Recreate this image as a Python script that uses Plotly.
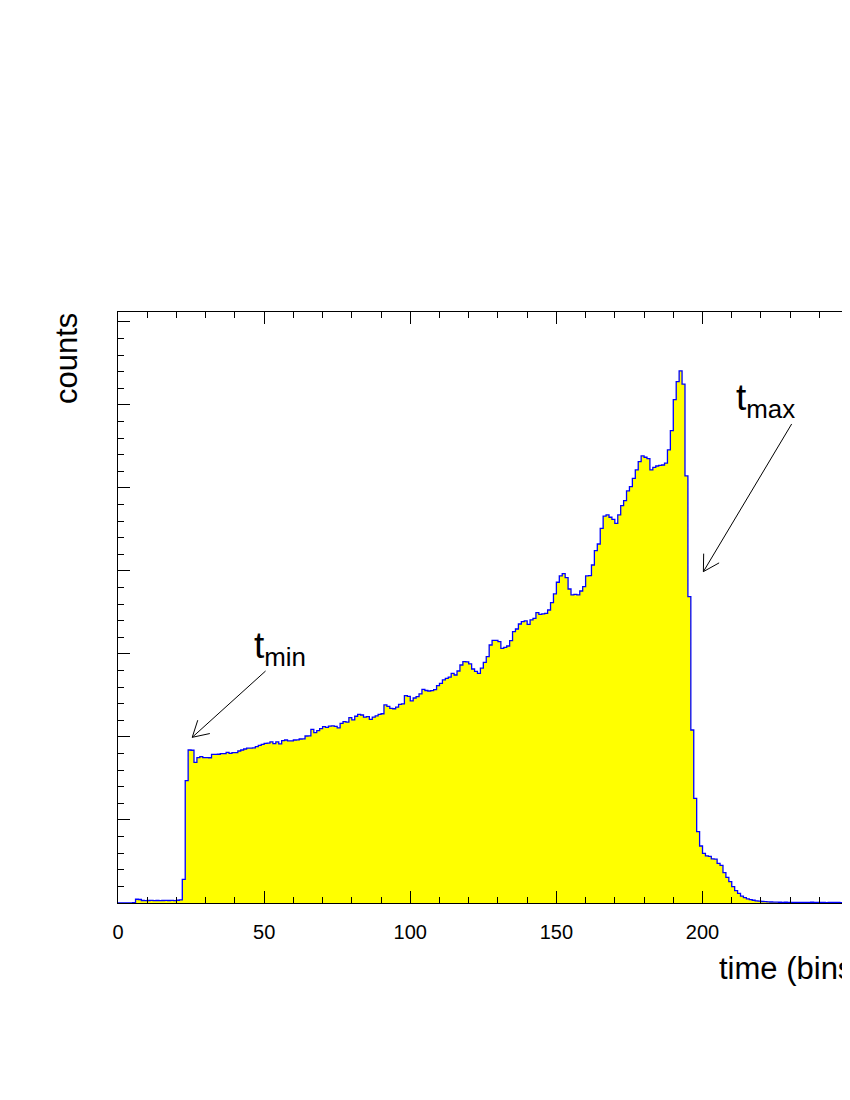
import math
import plotly.graph_objects as go

# Datos del histograma: cuentas por bin (bin de anchura 1, empezando en 0)
cuentas = [
    0, 0, 0, 0, 0, 5, 45, 42, 30, 28,
    30, 31, 29, 30, 28, 30, 32, 30, 31, 29,
    33, 38, 285, 1475, 1843, 1840, 1695, 1751, 1763, 1751,
    1752, 1750, 1791, 1790, 1792, 1799, 1800, 1815, 1803, 1811,
    1812, 1831, 1843, 1855, 1867, 1866, 1868, 1883, 1899, 1912,
    1924, 1925, 1940, 1920, 1940, 1916, 1956, 1964, 1952, 1953,
    1964, 1965, 1976, 1977, 2012, 2013, 2092, 2052, 2076, 2100,
    2124, 2115, 2132, 2135, 2128, 2110, 2164, 2185, 2180, 2233,
    2205, 2250, 2273, 2265, 2240, 2245, 2213, 2240, 2255, 2273,
    2280, 2386, 2370, 2345, 2340, 2360, 2394, 2400, 2498, 2490,
    2434, 2470, 2486, 2520, 2574, 2560, 2554, 2558, 2570, 2618,
    2647, 2687, 2707, 2720, 2767, 2747, 2795, 2867, 2907, 2905,
    2880, 2819, 2790, 2767, 2830, 2900, 2968, 3108, 3165, 3163,
    3148, 3068, 3080, 3096, 3161, 3269, 3301, 3361, 3390, 3398,
    3357, 3410, 3430, 3498, 3478, 3482, 3490, 3530, 3618, 3723,
    3864, 3940, 3968, 3920, 3783, 3711, 3719, 3711, 3759, 3811,
    3940, 3944, 4072, 4245, 4325, 4514, 4660, 4675, 4647, 4622,
    4574, 4675, 4787, 4847, 4964, 5016, 5116, 5217, 5317, 5386,
    5370, 5354, 5217, 5249, 5265, 5273, 5277, 5300, 5460, 5690,
    6065, 6280, 6410, 6250, 5145, 3690, 2084, 1261, 859, 687,
    598, 568, 562, 532, 528, 478, 454, 365, 309, 257,
    197, 148, 116, 84, 65, 50, 40, 33, 26, 22,
    18, 16, 14, 12, 11, 10, 9, 8, 9, 7,
    8, 8, 6, 7, 8, 6, 7, 9, 6, 7,
    6, 8, 5, 7, 6, 6, 7, 5, 6, 7,
    6,
]

# Bordes de los bins para dibujar el histograma en escalones
bordes = list(range(len(cuentas) + 1))

# Etiquetas y posiciones de las flechas (tiempo, cuentas)
etiquetas = ["t<sub>min</sub>", "t<sub>max</sub>"]
etiqueta_pos = [(46.0, 3072), (210.8, 6060)]
flecha_punta = [(25.4, 1996), (200.3, 3992)]
flecha_cola = [(50.5, 2795), (230.5, 5771)]

fuente = "Liberation Sans, Arial, Helvetica, sans-serif"

# Geometría del área de dibujo (píxeles)
ancho, alto = 850, 1084
margen = dict(l=110, r=0, t=304, b=189)
rango_x = [0, 253.2]
rango_y = [0, 7120]
px_x = (ancho - margen["l"] - margen["r"]) / (rango_x[1] - rango_x[0])
px_y = (alto - margen["t"] - margen["b"]) / (rango_y[1] - rango_y[0])

fig = go.Figure()

fig.add_trace(go.Scatter(
    x=bordes,
    y=cuentas + [cuentas[-1]],
    mode="lines",
    line=dict(color="#0000ff", width=1.3, shape="hv"),
    fill="tozeroy",
    fillcolor="#ffff00",
    hoverinfo="skip",
    showlegend=False,
))


# Flecha estilo ROOT: línea y dos barbas abiertas en la punta
def flecha(punta, cola, largo=18, angulo=30):
    linea = dict(color="black", width=1)
    fig.add_shape(type="line", xref="x", yref="y", x0=cola[0], y0=cola[1],
                  x1=punta[0], y1=punta[1], line=linea)
    dx = (cola[0] - punta[0]) * px_x
    dy = -(cola[1] - punta[1]) * px_y
    a = math.atan2(dy, dx)
    for s in (-1, 1):
        b = a + s * math.radians(angulo)
        fig.add_shape(type="line", xref="x", yref="y", x0=punta[0], y0=punta[1],
                      x1=punta[0] + largo * math.cos(b) / px_x,
                      y1=punta[1] - largo * math.sin(b) / px_y, line=linea)


for texto, (tx, ty), punta, cola in zip(etiquetas, etiqueta_pos, flecha_punta, flecha_cola):
    flecha(punta, cola)
    fig.add_annotation(
        x=tx, y=ty, xref="x", yref="y", text=texto, showarrow=False,
        xanchor="left", yanchor="middle", font=dict(size=37, color="black", family=fuente),
    )

# Títulos de los ejes (alineados al final, como en ROOT)
fig.add_annotation(
    x=-0.0689, y=0.9205, xref="paper", yref="paper", text="counts", textangle=-90,
    showarrow=False, xanchor="center", yanchor="middle",
    font=dict(size=31, color="black", family=fuente),
)
fig.add_annotation(
    x=0.8095, y=-0.110, xref="paper", yref="paper", text="time (bins)",
    showarrow=False, xanchor="left", yanchor="middle",
    font=dict(size=31, color="black", family=fuente),
)

fig.update_layout(
    width=ancho,
    height=alto,
    margin=margen,
    paper_bgcolor="white",
    plot_bgcolor="white",
    font=dict(family=fuente, color="black"),
    xaxis=dict(
        range=rango_x, tick0=0, dtick=50,
        showgrid=False, zeroline=False,
        ticks="inside", ticklen=12, tickwidth=1, tickcolor="black",
        minor=dict(ticks="inside", ticklen=6, dtick=10, tickcolor="black", showgrid=False),
        showline=True, linecolor="black", linewidth=1, mirror="ticks",
        tickfont=dict(size=20, color="black"), ticklabelstandoff=11,
    ),
    yaxis=dict(
        range=rango_y, dtick=1000,
        showgrid=False, zeroline=False, showticklabels=False,
        ticks="inside", ticklen=12, tickwidth=1, tickcolor="black",
        minor=dict(ticks="inside", ticklen=6, dtick=200, tickcolor="black", showgrid=False),
        showline=True, linecolor="black", linewidth=1,
    ),
)

fig.write_html("out.html")
